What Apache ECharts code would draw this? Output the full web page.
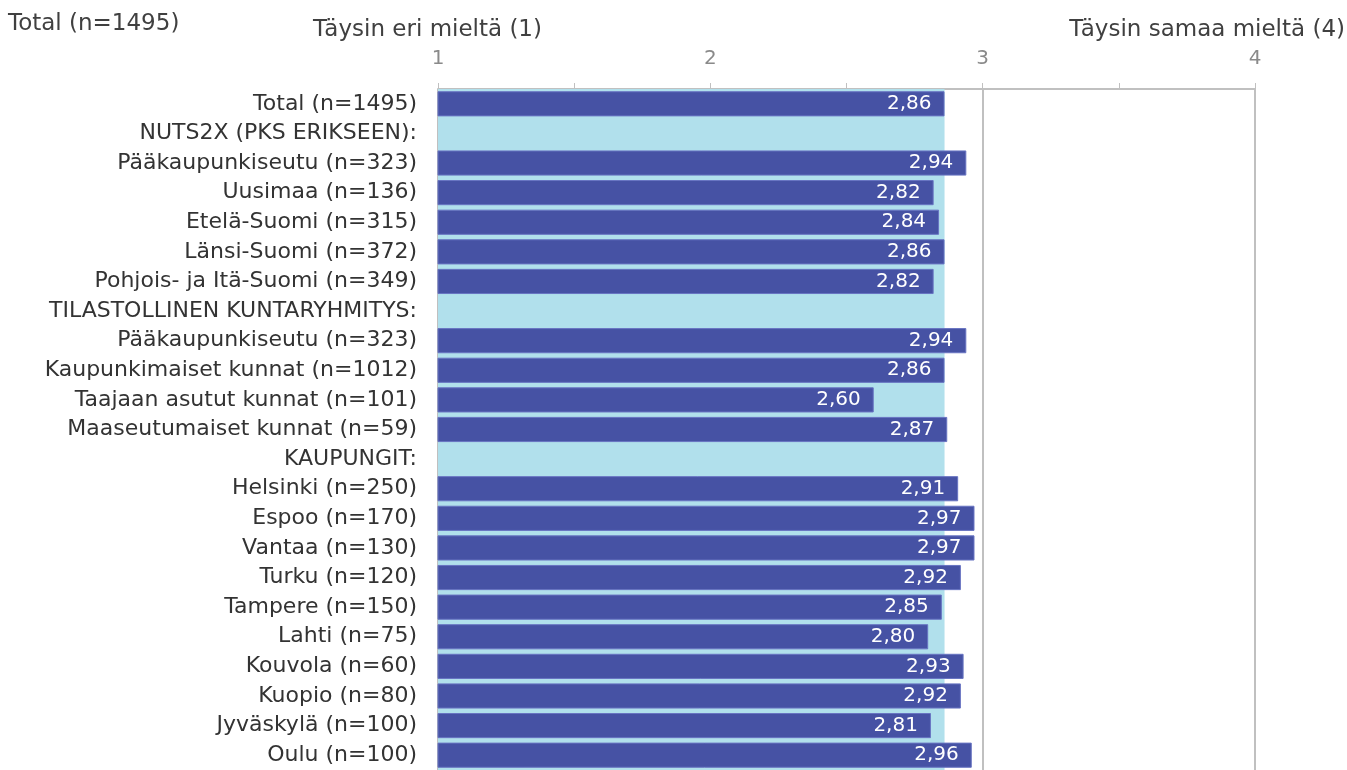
<!DOCTYPE html>
<html>
<head>
<meta charset="utf-8">
<script src="https://cdn.jsdelivr.net/npm/echarts@6/dist/echarts.min.js"></script>
<style>
html,body{margin:0;padding:0;background:#fff;}
#chart{width:1347px;height:770px;}
</style>
</head>
<body>
<div id="chart"></div>
<script>
var categories = [
  'Total (n=1495)',
  'NUTS2X (PKS ERIKSEEN):',
  'Pääkaupunkiseutu (n=323)',
  'Uusimaa (n=136)',
  'Etelä-Suomi (n=315)',
  'Länsi-Suomi (n=372)',
  'Pohjois- ja Itä-Suomi (n=349)',
  'TILASTOLLINEN KUNTARYHMITYS:',
  'Pääkaupunkiseutu (n=323)',
  'Kaupunkimaiset kunnat (n=1012)',
  'Taajaan asutut kunnat (n=101)',
  'Maaseutumaiset kunnat (n=59)',
  'KAUPUNGIT:',
  'Helsinki (n=250)',
  'Espoo (n=170)',
  'Vantaa (n=130)',
  'Turku (n=120)',
  'Tampere (n=150)',
  'Lahti (n=75)',
  'Kouvola (n=60)',
  'Kuopio (n=80)',
  'Jyväskylä (n=100)',
  'Oulu (n=100)'
];
var values = [
  2.86, '-', 2.94, 2.82, 2.84, 2.86, 2.82, '-', 2.94, 2.86, 2.60, 2.87, '-',
  2.91, 2.97, 2.97, 2.92, 2.85, 2.80, 2.93, 2.92, 2.81, 2.96
];
var totalValue = 2.86;
var scaleMin = 1, scaleMax = 4;
var tickLabels = ['1', '2', '3', '4'];
var headerLeft = 'Total (n=1495)';
var titleMin = 'Täysin eri mieltä (1)';
var titleMax = 'Täysin samaa mieltä (4)';

var FONT = 'DejaVu Sans';
var chart = echarts.init(document.getElementById('chart'), null, {renderer: 'canvas'});
chart.setOption({
  animation: false,
  backgroundColor: '#ffffff',
  title: [
    {text: headerLeft, left: 8, top: 13, padding: 0, textStyle: {fontFamily: FONT, fontSize: 23, fontWeight: 'normal', color: '#404040'}},
    {text: titleMin, left: 313, top: 19, padding: 0, textStyle: {fontFamily: FONT, fontSize: 23, fontWeight: 'normal', color: '#404040'}},
    {text: titleMax, right: 2, top: 19, padding: 0, textStyle: {fontFamily: FONT, fontSize: 23, fontWeight: 'normal', color: '#404040'}}
  ],
  grid: {left: 438, right: 92, top: 89, height: 683, containLabel: false},
  xAxis: {
    type: 'value',
    position: 'top',
    min: scaleMin,
    max: scaleMax,
    interval: 1,
    axisLine: {show: true, lineStyle: {color: '#C0C0C0', width: 2}},
    axisTick: {show: true, inside: false, length: 6, lineStyle: {color: '#C0C0C0', width: 1}},
    minorTick: {show: true, splitNumber: 2, length: 6, lineStyle: {color: '#C0C0C0', width: 1}},
    axisLabel: {
      margin: 20,
      fontFamily: FONT, fontSize: 20, color: '#8a8a8a',
      formatter: function (v) { var i = Math.round(v - scaleMin); return tickLabels[i] !== undefined ? tickLabels[i] : ''; }
    },
    splitLine: {show: true, lineStyle: {color: '#C0C0C0', width: 2}}
  },
  yAxis: {
    type: 'category',
    inverse: true,
    data: categories,
    axisLine: {show: false},
    axisTick: {show: false},
    splitLine: {show: false},
    axisLabel: {margin: 21, fontFamily: FONT, fontSize: 22, color: '#333333'}
  },
  series: [{
    type: 'bar',
    data: values,
    barCategoryGap: '15%',
    itemStyle: {color: '#4652A4', borderColor: '#6874C2', borderWidth: 1},
    label: {
      show: true,
      position: 'insideRight',
      distance: 13,
      color: '#ffffff',
      fontFamily: FONT,
      fontSize: 20,
      formatter: function (p) { return p.value.toFixed(2).replace('.', ','); }
    },
    markArea: {
      silent: true,
      itemStyle: {color: '#B1E0EC'},
      data: [[{xAxis: scaleMin}, {xAxis: totalValue}]]
    }
  }]
});
</script>
</body>
</html>
